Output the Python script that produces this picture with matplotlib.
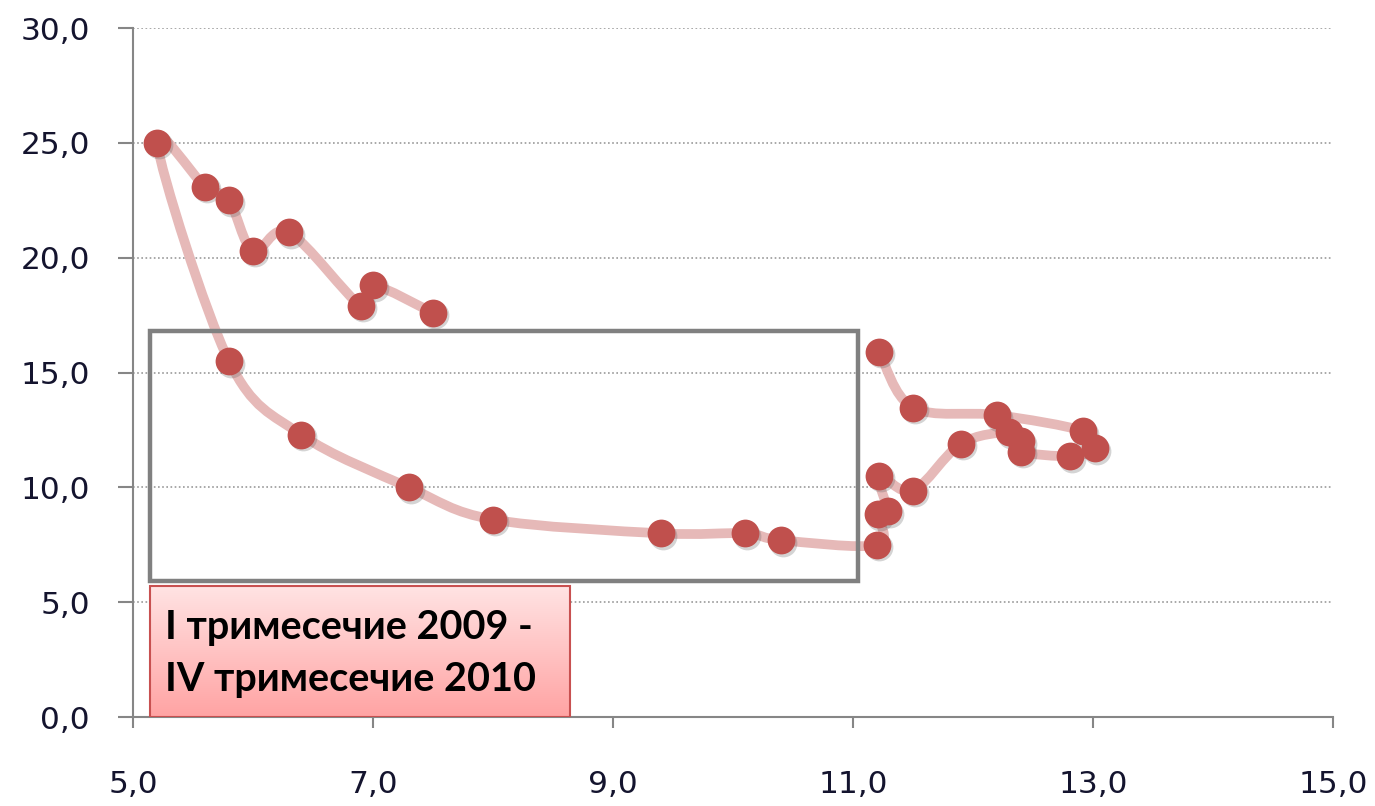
import numpy as np
import matplotlib.pyplot as plt
from matplotlib.path import Path
from matplotlib.patches import PathPatch, Rectangle
from matplotlib.ticker import FuncFormatter, MultipleLocator
import matplotlib.transforms as mtransforms

# points in the order the line joins them
xs = [7.5, 7.0, 6.9, 6.3, 6.0, 5.8, 5.6, 5.2,
      5.8, 6.4, 7.3, 8.0, 9.4, 10.1, 10.4, 11.2,
      11.21, 11.29, 11.22, 11.5, 11.9, 12.3, 12.4, 12.4,
      12.81, 13.02, 12.92, 12.2, 11.5, 11.22]
ys = [17.6, 18.8, 17.9, 21.1, 20.3, 22.5, 23.1, 25.0,
      15.5, 12.3, 10.0, 8.6, 8.0, 8.0, 7.7, 7.5,
      8.84, 8.97, 10.5, 9.85, 11.9, 12.4, 12.0, 11.55,
      11.36, 11.7, 12.45, 13.15, 13.47, 15.9]

x_ticks = [5, 7, 9, 11, 13, 15]
label_text = "I тримесечие 2009 -\nIV тримесечие 2010"

dot_red = "#c0504d"
line_pink = "#e6b9b8"
tick_col = "#14142e"


def smooth_path(x, y):
    # excel style smoothed line: catmull-rom turned into cubic beziers
    P = np.column_stack([x, y])
    n = len(P)
    verts = [P[0]]
    codes = [Path.MOVETO]
    for i in range(n - 1):
        p0 = P[i - 1] if i > 0 else P[i]
        p1 = P[i]
        p2 = P[i + 1]
        p3 = P[i + 2] if i + 2 < n else P[i + 1]
        c1 = p1 + (p2 - p0) / 6.0
        c2 = p2 - (p3 - p1) / 6.0
        verts += [c1, c2, p2]
        codes += [Path.CURVE4] * 3
    return Path(verts, codes)


fig = plt.figure(figsize=(13.75, 8.06), dpi=100)
ax = fig.add_axes([0.0967, 0.1104, 0.8727, 0.8548])

ax.yaxis.set_major_locator(MultipleLocator(5))
ax.set_xticks(x_ticks)
fmt = FuncFormatter(lambda v, p: f"{v:.1f}".replace(".", ","))
ax.xaxis.set_major_formatter(fmt)
ax.yaxis.set_major_formatter(fmt)

ax.grid(axis="y", linestyle=(0, (1, 1.5)), color="#9a9a9a", linewidth=1.2)
ax.set_axisbelow(True)
for s in ["top", "right"]:
    ax.spines[s].set_visible(False)
for s in ["left", "bottom"]:
    ax.spines[s].set_color("#868686")
    ax.spines[s].set_linewidth(1.5)

ax.tick_params(axis="y", direction="out", length=11, width=1.5, color="#868686",
               pad=20, labelsize=22.5, labelcolor=tick_col)
ax.tick_params(axis="x", direction="out", length=8, width=1.5, color="#868686",
               pad=30, labelsize=22.5, labelcolor=tick_col)

# smooth connecting line
patch = PathPatch(smooth_path(xs, ys), facecolor="none", edgecolor=line_pink,
                  linewidth=7, capstyle="round", joinstyle="round", zorder=3)
ax.add_patch(patch)

# markers with a light shadow
shadow = mtransforms.offset_copy(ax.transData, fig=fig, x=2, y=-2.5, units="dots")
ax.plot(xs, ys, "o", ms=20, color="#555555", alpha=0.25, mec="none",
        transform=shadow, zorder=4)
ax.plot(xs, ys, "o", ms=20, color=dot_red, mec="none", zorder=5)

# gray frame around the 2009-2010 part
ax.add_patch(Rectangle((5.14, 5.92), 5.9, 10.88, facecolor="none",
                       edgecolor="#808080", linewidth=3.2, zorder=6))

# pink label box with gradient (light on top)
grad = np.linspace(0, 1, 100).reshape(-1, 1)
top = np.array([1.0, 0.89, 0.89])
bot = np.array([1.0, 0.64, 0.64])
img = top + (bot - top) * grad[:, :, None]
bx0, bx1, by0, by1 = 5.14, 8.64, 0.02, 5.7
ax.imshow(img, extent=[bx0, bx1, by0, by1], origin="upper", aspect="auto",
          zorder=7, interpolation="bilinear")
ax.add_patch(Rectangle((bx0, by0), bx1 - bx0, by1 - by0, facecolor="none",
                       edgecolor="#c85050", linewidth=1.5, zorder=8))
ax.text(5.27, (by0 + by1) / 2 - 0.1, label_text, ha="left", va="center",
        fontsize=28.5, fontweight="bold", family=["Lato", "DejaVu Sans"],
        color="black", linespacing=1.5, zorder=9)

ax.set_xlim(5, 15)
ax.set_ylim(0, 30)

fig.savefig("out.png", dpi=100)
